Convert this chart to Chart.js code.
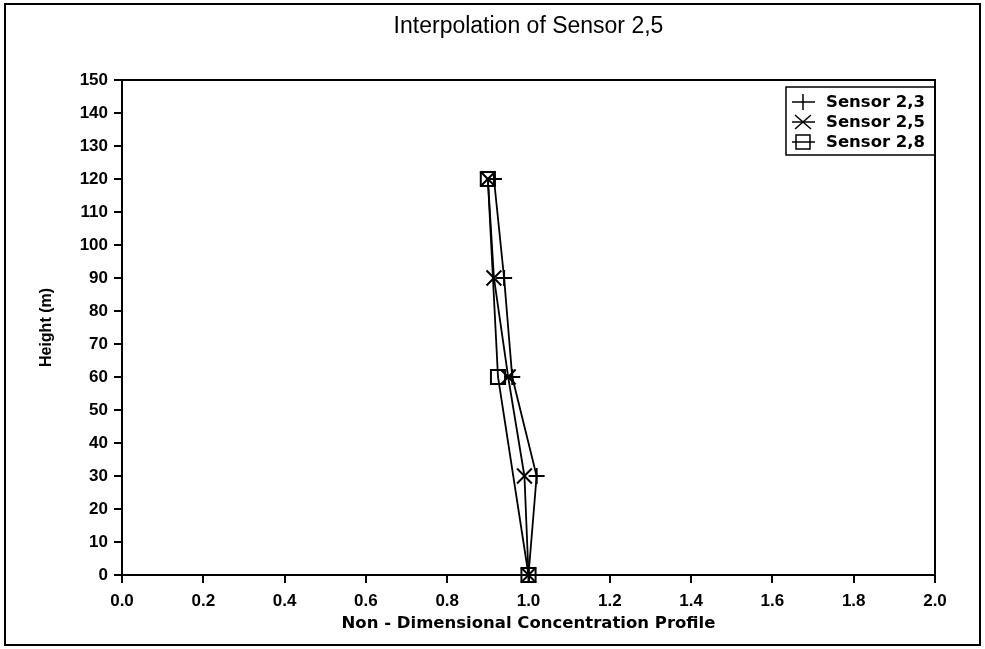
<!DOCTYPE html>
<html>
<head>
<meta charset="utf-8">
<script src="https://cdn.jsdelivr.net/npm/chart.js@4.4.1/dist/chart.umd.min.js"></script>
<style>
  html, body { margin: 0; padding: 0; background: #fff; }
  #wrap { position: relative; width: 985px; height: 649px; }
  canvas { display: block; }
</style>
</head>
<body>
<div id="wrap"><canvas id="c" width="985" height="649"></canvas></div>
<script>
// Measured profiles: height above ground (m) vs. non-dimensional concentration
const heights   = [0, 30, 60, 90, 120];
const sensor23  = [1.00, 1.02, 0.96, 0.94, 0.915];
const sensor25  = [1.00, 0.99, 0.95, 0.915, 0.90];
const sensor28  = [1.00, null, 0.925, null, 0.90];   // no readings at 30 m and 90 m

const seriesNames = ['Sensor 2,3', 'Sensor 2,5', 'Sensor 2,8'];
const xTickLabels = ['0.0', '0.2', '0.4', '0.6', '0.8', '1.0', '1.2', '1.4', '1.6', '1.8', '2.0'];
const yTickLabels = ['0', '10', '20', '30', '40', '50', '60', '70', '80', '90', '100', '110', '120', '130', '140', '150'];

const chartTitle = 'Interpolation of Sensor 2,5';
const xTitle = 'Non - Dimensional Concentration Profile';
const yTitle = 'Height (m)';

// pair each concentration with its height, skipping missing readings
function profile(values) {
  const pts = [];
  values.forEach((v, i) => { if (v !== null) pts.push({ x: v, y: heights[i] }); });
  return pts;
}

const markerStyles = ['cross', 'crossRot', 'rect'];
const markerRadius = [8, 10.5, 10];

const tickFont = { family: '"Liberation Sans", Arial, sans-serif', size: 17, weight: 'bold' };

// outer frame, plot box, centred title and line+marker legend
const decor = {
  id: 'decor',
  afterDraw(chart) {
    const ctx = chart.ctx;
    const a = chart.chartArea;
    ctx.save();
    ctx.strokeStyle = '#000';
    ctx.fillStyle = '#000';

    // frame round the whole figure
    ctx.lineWidth = 2;
    ctx.strokeRect(5, 4, 975, 641);

    // plot box
    ctx.strokeRect(a.left, a.top, a.right - a.left, a.bottom - a.top);

    // title centred over the plot
    ctx.font = '23px "Liberation Sans", Arial, sans-serif';
    ctx.textAlign = 'center';
    ctx.textBaseline = 'middle';
    ctx.fillText(chartTitle, (a.left + a.right) / 2, 27);

    // legend
    const lw = 149, lh = 68;
    const lx = a.right - lw, ly = a.top + 7;
    ctx.lineWidth = 1.5;
    ctx.strokeRect(lx, ly, lw, lh);
    ctx.font = 'bold 16.5px "DejaVu Sans", sans-serif';
    ctx.textAlign = 'left';
    chart.data.datasets.forEach((ds, i) => {
      const y = ly + 15 + i * 20;
      const cx = lx + 17;
      ctx.beginPath();
      ctx.moveTo(lx + 6, y);
      ctx.lineTo(lx + 29, y);
      ctx.stroke();
      ctx.beginPath();
      if (i === 0) {
        ctx.moveTo(cx, y - 8); ctx.lineTo(cx, y + 8);
      } else if (i === 1) {
        ctx.moveTo(cx - 8, y - 7); ctx.lineTo(cx + 8, y + 7);
        ctx.moveTo(cx - 8, y + 7); ctx.lineTo(cx + 8, y - 7);
      } else {
        ctx.rect(cx - 7, y - 7, 14, 14);
      }
      ctx.stroke();
      ctx.fillText(ds.label, lx + 40, y + 1);
    });
    ctx.restore();
  }
};

const series = [sensor23, sensor25, sensor28];

new Chart(document.getElementById('c'), {
  type: 'scatter',
  data: {
    datasets: series.map((vals, i) => ({
      label: seriesNames[i],
      data: profile(vals),
      showLine: true,
      borderColor: '#000',
      borderWidth: 1.8,
      backgroundColor: 'transparent',
      pointStyle: markerStyles[i],
      pointRadius: markerRadius[i],
      pointHoverRadius: markerRadius[i],
      pointBorderColor: '#000',
      pointBackgroundColor: 'transparent',
      pointBorderWidth: 2,
      tension: 0,
      clip: false
    }))
  },
  options: {
    responsive: false,
    animation: false,
    devicePixelRatio: 1,
    layout: { padding: { left: 0, top: 80, right: 50, bottom: 0 } },
    plugins: {
      legend: { display: false },
      title: { display: false },
      tooltip: { enabled: false }
    },
    scales: {
      x: {
        type: 'linear',
        min: 0,
        max: 2,
        ticks: {
          stepSize: 0.2,
          color: '#000',
          font: tickFont,
          padding: 8,
          maxRotation: 0,
          autoSkip: false,
          callback: (v, i) => xTickLabels[i]
        },
        grid: { drawOnChartArea: false, drawTicks: true, tickLength: 8, color: '#000', lineWidth: 2 },
        border: { display: false },
        title: {
          display: true,
          text: xTitle,
          color: '#000',
          font: { family: '"DejaVu Sans", sans-serif', size: 16.5, weight: 'bold' },
          padding: { top: 0, bottom: 15 }
        },
        afterFit: s => { s.height = 74; }
      },
      y: {
        type: 'linear',
        min: 0,
        max: 150,
        ticks: {
          stepSize: 10,
          color: '#000',
          font: tickFont,
          padding: 6,
          autoSkip: false,
          callback: (v, i) => yTickLabels[i]
        },
        grid: { drawOnChartArea: false, drawTicks: true, tickLength: 8, color: '#000', lineWidth: 2 },
        border: { display: false },
        title: {
          display: true,
          text: yTitle,
          color: '#000',
          font: { family: '"Liberation Sans", Arial, sans-serif', size: 16, weight: 'bold' },
          padding: { top: 37, bottom: 0 }
        },
        afterFit: s => { s.width = 122; }
      }
    }
  },
  plugins: [decor]
});
</script>
</body>
</html>
